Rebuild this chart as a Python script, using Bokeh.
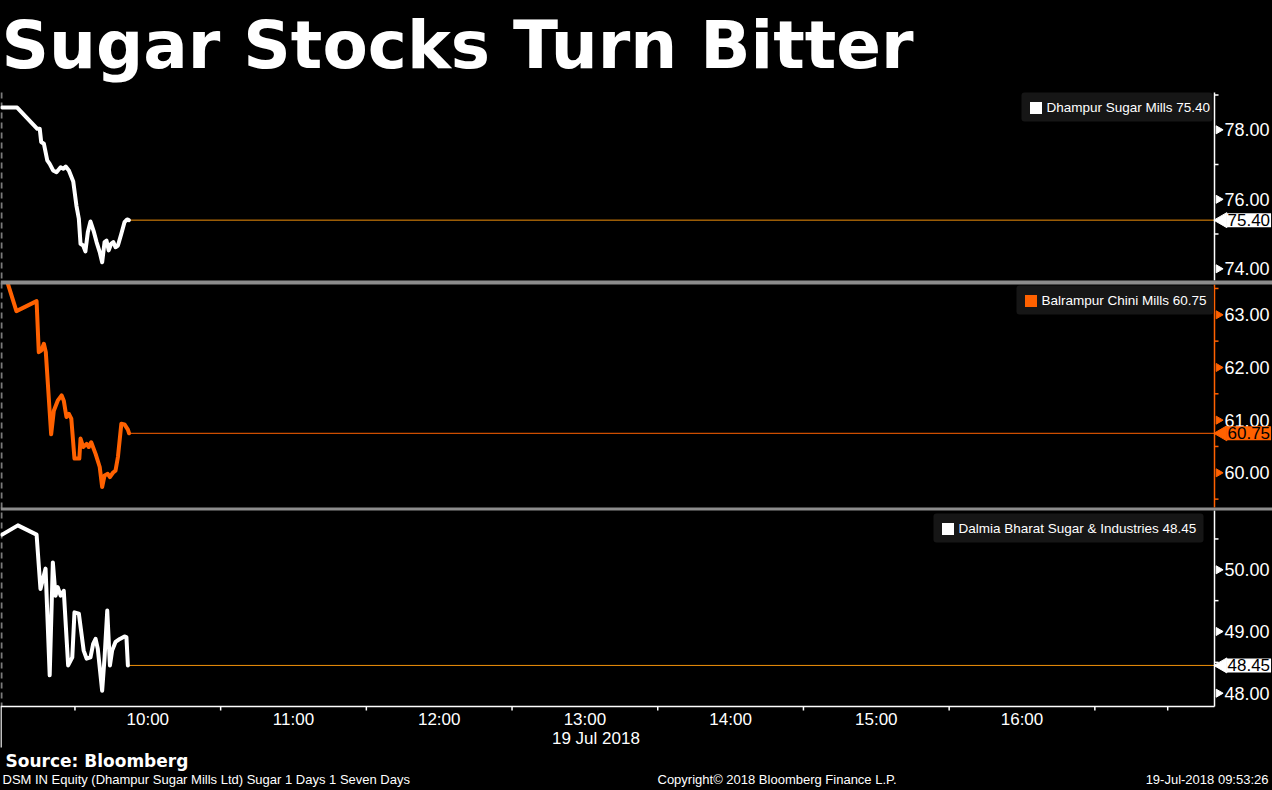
import math
from bokeh.plotting import figure
from bokeh.models import Range1d, Label, Span, Legend, LegendItem, BoxAnnotation
from bokeh.core.properties import value
from bokeh.embed import file_html
from bokeh.resources import INLINE

# ---------------- data (minutes after 09:00, 19 Jul 2018; prices in INR) ----------------
dham_min = [0, 6.2, 14.5, 15.5, 16.1, 17.2, 18.6, 19.6, 21.0, 22.4, 24.1, 25.2, 26.2, 27.5,
            29.3, 30.6, 31.6, 32.3, 33.4, 34.3, 35.3, 36.4, 37.8, 38.9, 40.2, 41.2, 42.2,
            43.0, 43.9, 44.9, 45.8, 46.7, 47.7, 49.1, 50.4, 51.5, 52.2]
dham_val = [78.64, 78.64, 78.03, 78.03, 77.65, 77.60, 77.12, 77.02, 76.83, 76.78, 76.92,
            76.88, 76.94, 76.83, 76.51, 75.82, 75.44, 74.72, 74.67, 74.50, 75.05, 75.36,
            75.06, 74.77, 74.48, 74.19, 74.77, 74.81, 74.53, 74.72, 74.77, 74.62, 74.67,
            75.01, 75.34, 75.42, 75.40]

balr_min = [2.3, 5.9, 14.2, 15.1, 16.1, 17.2, 18.0, 20.2, 21.3, 22.9, 24.5, 25.4, 26.5, 27.5,
            28.5, 29.8, 31.8, 32.3, 33.4, 34.8, 35.7, 36.7, 38.5, 40.2, 41.2, 42.2, 43.5,
            44.4, 45.8, 46.7, 47.7, 49.1, 50.4, 51.8, 52.3]
balr_val = [63.60, 63.07, 63.26, 62.29, 62.32, 62.45, 62.29, 60.73, 61.18, 61.37, 61.47,
            61.37, 61.06, 61.12, 61.03, 60.27, 60.27, 60.65, 60.49, 60.55, 60.49, 60.58,
            60.36, 60.11, 59.73, 59.95, 59.98, 59.92, 60.01, 60.04, 60.30, 60.93, 60.92,
            60.82, 60.75]

dalm_min = [0, 6.5, 14.2, 15.8, 17.9, 19.6, 20.9, 22.0, 22.9, 24.1, 25.4, 27.2, 28.9, 29.8,
            31.6, 33.6, 34.8, 36.4, 37.5, 38.5, 39.4, 41.2, 42.2, 43.3, 44.4, 45.3, 46.7,
            48.5, 50.4, 51.2, 51.8]
dalm_val = [50.57, 50.72, 50.57, 49.69, 50.02, 48.29, 50.12, 49.58, 49.72, 49.58, 49.66,
            48.45, 48.58, 49.31, 49.29, 48.69, 48.56, 48.58, 48.80, 48.88, 48.72, 48.04,
            48.58, 49.34, 48.45, 48.69, 48.83, 48.88, 48.92, 48.91, 48.45]

names = ["Dhampur Sugar Mills", "Balrampur Chini Mills", "Dalmia Bharat Sugar & Industries"]

dham_ticks = [74, 76, 78]
dham_minor = [75, 77, 79]
balr_ticks = [60, 61, 62, 63]
balr_minor = [59.5, 60.5, 61.5, 62.5, 63.5]
dalm_ticks = [48, 49, 50]
dalm_minor = [48.5, 49.5, 50.5]

hour_ticks = [10, 11, 12, 13, 14, 15, 16]
hour_labels = ["10:00", "11:00", "12:00", "13:00", "14:00", "15:00", "16:00"]
half_ticks = [9.5, 10.5, 11.5, 12.5, 13.5, 14.5, 15.5, 16.5, 17.0]
date_text = "19 Jul 2018"

title_text = "Sugar Stocks Turn Bitter"
source_text = "Source: Bloomberg"
footer_left = "DSM IN Equity (Dhampur Sugar Mills Ltd) Sugar 1 Days 1 Seven Days"
footer_mid = "Copyright\u00a9 2018 Bloomberg Finance L.P."
footer_right = "19-Jul-2018 09:53:26"

# ---------------- layout constants ----------------
W, H = 1272, 790
BG = "black"
WHITE = "#ffffff"
ORANGE = "#ff6100"
LASTLINE = "#f0900a"
GRAY = "#8c8c8c"
LEGBG = "#161616"
SANS = "Liberation Sans"

PXH = 145.7          # pixels per hour on the time axis
X0_PX = 1.6          # pixel of 09:00
PX = 1.0 / PXH       # one pixel, in hours
AXIS_PX = 1214       # pixel of the price axes
X_AXIS = 9 + (AXIS_PX - X0_PX) / PXH

# panel scales: (anchor value, anchor pixel from top, pixels per unit, band top, band bottom)
PANELS = {
    "p1": (78.0, 129.3, 34.75, 92, 280),
    "p2": (63.0, 314.3, 52.67, 284, 507),
    "p3": (50.0, 569.3, 61.70, 510, 706),
}
# legend boxes: (left, right, top, bottom) in pixels from the top-left
LEGBOX = {
    "p1": (1021, 1212, 92, 121),
    "p2": (1016, 1213, 285, 314),
    "p3": (933, 1203, 513, 542),
}


def vrange(k):
    a, apx, ppu, _, _ = PANELS[k]
    return Range1d(a - (H - apx) / ppu, a + apx / ppu)


def v(k, px):
    a, apx, ppu, _, _ = PANELS[k]
    return a + (apx - px) / ppu


p = figure(width=W, height=H, toolbar_location=None, output_backend="svg",
           x_range=Range1d(9 - X0_PX / PXH, 9 + (W - X0_PX) / PXH),
           y_range=vrange("p1"),
           x_axis_location=None, y_axis_location=None,
           min_border_left=0, min_border_right=0, min_border_top=0, min_border_bottom=0,
           background_fill_color=BG, border_fill_color=BG, outline_line_color=None,
           styles={"background-color": "black"})
p.extra_y_ranges = {"p2": vrange("p2"), "p3": vrange("p3")}
p.xgrid.visible = False
p.ygrid.visible = False


def rn(k):
    return "default" if k == "p1" else k


# left dashed boundary
p.segment(x0=[9 + (1 - X0_PX) / PXH], y0=[v("p1", 92)], x1=[9 + (1 - X0_PX) / PXH],
          y1=[v("p1", 706)], line_color="#7a7a7a", line_width=2, line_dash="6 4")


def panel(k, mins, vals, color, axis_color, name, majors, minors, tag_bg, last_color):
    r = rn(k)
    _, _, _, top_px, bot_px = PANELS[k]
    xs = [9 + m / 60.0 for m in mins]
    last = vals[-1]

    # last value guide
    p.segment(x0=[xs[-1]], y0=[last], x1=[X_AXIS], y1=[last], line_color=last_color,
              line_width=1, y_range_name=r)
    # series
    p.line(xs, vals, line_color=color, line_width=4, line_join="round",
           line_cap="round", y_range_name=r)

    # price axis
    p.segment(x0=[X_AXIS], y0=[v(k, bot_px)], x1=[X_AXIS], y1=[v(k, top_px)],
              line_color=axis_color, line_width=1.5, y_range_name=r)
    p.scatter(x=[X_AXIS + 4 * PX] * len(majors), y=majors, marker="triangle",
              angle=-math.pi / 2, size=8, fill_color=axis_color, line_color=axis_color,
              y_range_name=r)
    p.segment(x0=[X_AXIS] * len(minors), y0=minors, x1=[X_AXIS + 4 * PX] * len(minors),
              y1=minors, line_color=axis_color, line_width=1.5, y_range_name=r)
    p.text(x=[X_AXIS] * len(majors), y=majors, text=[f"{t:.2f}" for t in majors],
           x_offset=10, text_align="left", text_baseline="middle",
           text_font=value(SANS), text_font_size="18px", text_color=WHITE,
           y_range_name=r)

    # current value tag
    p.scatter(x=[X_AXIS + 8 * PX], y=[last], marker="triangle", angle=math.pi / 2,
              size=15, fill_color=tag_bg, line_color=tag_bg, y_range_name=r)
    p.add_layout(Label(x=X_AXIS, y=last, x_offset=12, text=f"{last:.2f}",
                       text_align="left", text_baseline="middle",
                       text_font=SANS, text_font_size="17px", text_color="black",
                       background_fill_color=tag_bg, background_fill_alpha=1.0,
                       padding=1, y_range_name=r))

    # legend box + legend (swatch renderer is a zero-area quad at the last point)
    bl, br, bt, bb = LEGBOX[k]
    p.add_layout(BoxAnnotation(left=bl, right=br, top=H - bt, bottom=H - bb,
                               left_units="screen", right_units="screen",
                               top_units="screen", bottom_units="screen",
                               fill_color=LEGBG, fill_alpha=1.0, line_color=None,
                               border_radius=3))
    sw = p.quad(left=[xs[-1]], right=[xs[-1]], top=[last], bottom=[last],
                fill_color=color, line_color=None, y_range_name=r)
    cy = (bt + bb) / 2.0
    lg = Legend(items=[LegendItem(label=f"{name} {last:.2f}", renderers=[sw])],
                location=(bl + 6.5, H - (cy + 8)), padding=0, spacing=0, margin=0,
                glyph_width=15, glyph_height=15, label_standoff=4, label_height=15,
                background_fill_alpha=0.0, border_line_color=None,
                label_text_color=WHITE, label_text_font=SANS,
                label_text_font_size="13.5px")
    p.add_layout(lg)


panel("p1", dham_min, dham_val, WHITE, WHITE, names[0], dham_ticks, dham_minor,
      WHITE, LASTLINE)
panel("p2", balr_min, balr_val, ORANGE, ORANGE, names[1], balr_ticks, balr_minor,
      ORANGE, ORANGE)
panel("p3", dalm_min, dalm_val, WHITE, WHITE, names[2], dalm_ticks, dalm_minor,
      WHITE, LASTLINE)

# separators between panels
p.add_layout(Span(location=v("p1", 282), dimension="width", line_color=GRAY, line_width=4))
p.add_layout(Span(location=v("p2", 508.5), dimension="width", line_color=GRAY,
                  line_width=3, y_range_name="p2"))

# time axis
base = v("p3", 706)
p.segment(x0=[9 + (0 - X0_PX) / PXH], y0=[base], x1=[X_AXIS], y1=[base],
          line_color=WHITE, line_width=1.5, y_range_name="p3")
p.segment(x0=half_ticks, y0=[base] * len(half_ticks), x1=half_ticks,
          y1=[v("p3", 710)] * len(half_ticks), line_color=WHITE, line_width=1.5,
          y_range_name="p3")
p.segment(x0=[9 + (0.5 - X0_PX) / PXH], y0=[base], x1=[9 + (0.5 - X0_PX) / PXH],
          y1=[v("p3", 747)], line_color=WHITE, line_width=1.5, y_range_name="p3")
p.text(x=hour_ticks, y=[v("p3", 718.5)] * len(hour_ticks), text=hour_labels,
       text_align="center", text_baseline="middle", text_font=value(SANS),
       text_font_size="17px", text_color=WHITE, y_range_name="p3")
p.add_layout(Label(x=13.0, x_offset=11, y=v("p3", 737.5), text=date_text,
                   text_align="center", text_baseline="middle", text_font=SANS,
                   text_font_size="17px", text_color=WHITE, y_range_name="p3"))


def screen_label(x, y_center, text, font, size, bold=False, align="left"):
    p.add_layout(Label(x=x, y=H - y_center, x_units="screen", y_units="screen", text=text,
                       text_font=font, text_font_style="bold" if bold else "normal",
                       text_font_size=size, text_color=WHITE, text_align=align,
                       text_baseline="middle"))


# title and footer
screen_label(1, 45, title_text, "DejaVu Sans", "66px", bold=True)
screen_label(5, 760, source_text, "DejaVu Sans", "17px", bold=True)
screen_label(2, 778.5, footer_left, SANS, "13px")
screen_label(657, 778.5, footer_mid, SANS, "13px")
screen_label(1268, 778.5, footer_right, SANS, "13px", align="right")

html = file_html(p, INLINE)
html = html.replace("</head>", "<style>html,body{background-color:#000000;}</style></head>", 1)
open("out.html", "w").write(html)
